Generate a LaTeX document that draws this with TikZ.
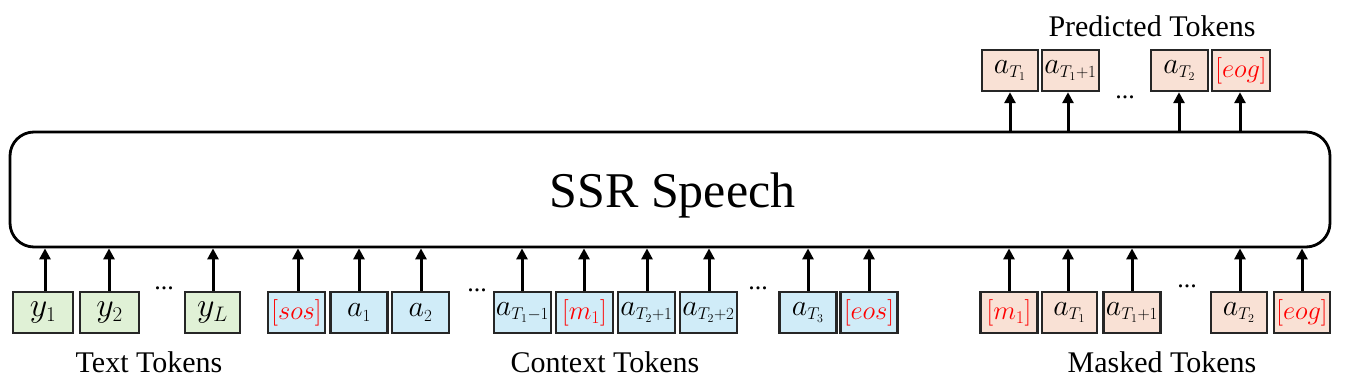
\RequirePackage{fix-cm}
\documentclass[tikz,border=0pt]{standalone}
\usepackage{fontspec}
\setmainfont{Liberation Serif}
\usetikzlibrary{arrows.meta}
\DeclareMathSizes{30}{30}{17}{12}
\DeclareMathSizes{34}{34}{21}{15}
\DeclareMathSizes{26.5}{26.5}{18}{13}
\definecolor{tgreen}{HTML}{E0F1D6}
\definecolor{tblue}{HTML}{D0ECF8}
\definecolor{torange}{HTML}{F9E1D5}
\definecolor{tborder}{HTML}{262626}
\definecolor{tred}{HTML}{FF0000}
\tikzset{
  tok/.style={draw=tborder, line width=2.4pt, minimum width=57pt, minimum height=41pt, inner sep=0pt, font=\fontsize{30}{30}\selectfont},
  gtok/.style={tok, fill=tgreen, font=\fontsize{34}{34}\selectfont},
  btok/.style={tok, fill=tblue},
  otok/.style={tok, fill=torange},
  arr/.style={line width=3pt, -{Triangle[length=11pt,width=11pt]}},
  lab/.style={font=\fontsize{30}{30}\selectfont, anchor=base, inner sep=0pt},
  dots/.style={font=\fontsize{26}{26}\selectfont, anchor=base, inner sep=0pt},
}
\newcommand{\rd}[1]{{\fontsize{26.5}{26.5}\selectfont\textcolor{tred}{$#1$}}}
\begin{document}
\begin{tikzpicture}[x=1pt,y=-1pt]
\useasboundingbox (0,0) rectangle (1363,387);
% main model
\node[draw=black, line width=2.8pt, rounded corners=24pt, minimum width=1320pt, minimum height=115pt, inner sep=0pt] (main) at (670,189.5) {};
\node[font=\fontsize{50}{50}\selectfont, anchor=base, inner sep=0pt] (title) at (672.5,208) {SSR Speech};
% text tokens
\node[gtok, minimum width=60pt] (y1) at (43,312.5) {$y_1$};
\node[gtok, minimum width=59pt] (y2) at (109.5,312.5) {$y_2$};
\node[gtok, minimum width=55pt] (yL) at (212.5,312.5) {$y_L$};
% context tokens
\node[btok] (sos) at (296.5,312.5) {\rd{[sos]}};
\node[btok] (ca1) at (359,312.5) {$a_1$};
\node[btok] (ca2) at (420.5,312.5) {$a_2$};
\node[btok] (cT1m) at (522.5,312.5) {$a_{T_1-1}$};
\node[btok] (cm1) at (584.5,312.5) {\rd{[m_1]}};
\node[btok] (cT2p1) at (646.5,312.5) {$a_{T_2+1}$};
\node[btok] (cT2p2) at (708.5,312.5) {$a_{T_2+2}$};
\node[btok] (cT3) at (808,312.5) {$a_{T_3}$};
\node[btok] (eos) at (869,312.5) {\rd{[eos]}};
% masked tokens
\node[otok] (mm1) at (1009,312.5) {\rd{[m_1]}};
\node[otok, minimum width=55pt] (mT1) at (1069.5,312.5) {$a_{T_1}$};
\node[otok] (mT1p) at (1132,312.5) {$a_{T_1+1}$};
\node[otok, minimum width=56pt] (mT2) at (1239,312.5) {$a_{T_2}$};
\node[otok, minimum width=56pt] (meog) at (1302,312.5) {\rd{[eog]}};
% predicted tokens
\node[otok, minimum width=56pt] (pT1) at (1010,70.5) {$a_{T_1}$};
\node[otok] (pT1p) at (1070.5,70.5) {$a_{T_1+1}$};
\node[otok] (pT2) at (1179.5,70.5) {$a_{T_2}$};
\node[otok, minimum width=58pt] (peog) at (1241,70.5) {\rd{[eog]}};
% dots
\node[dots] (d1) at (164,290) {...};
\node[dots] (d2) at (477,292) {...};
\node[dots] (d3) at (758,290) {...};
\node[dots] (d4) at (1187,288) {...};
\node[dots] (d5) at (1125,99) {...};
% input arrows
\foreach \n/\x in {y1/45,y2/109,yL/213,sos/298,ca1/359,ca2/421,cT1m/522,cm1/584,cT2p1/647,cT2p2/709,cT3/808,eos/869,mm1/1009,mT1/1068,mT1p/1132,mT2/1240,meog/1302}{
  \draw[arr] (\n.north -| \x,0) -- (main.south -| \x,0);
}
% output arrows
\foreach \n/\x in {pT1/1010,pT1p/1068,pT2/1179,peog/1240}{
  \draw[arr] (main.north -| \x,0) -- (\n.south -| \x,0);
}
% labels
\node[lab] (lt) at (149,373) {Text Tokens};
\node[lab] (lc) at (605,373) {Context Tokens};
\node[lab] (lm) at (1162,373) {Masked Tokens};
\node[lab] (lp) at (1152,37) {Predicted Tokens};
\end{tikzpicture}
\end{document}
